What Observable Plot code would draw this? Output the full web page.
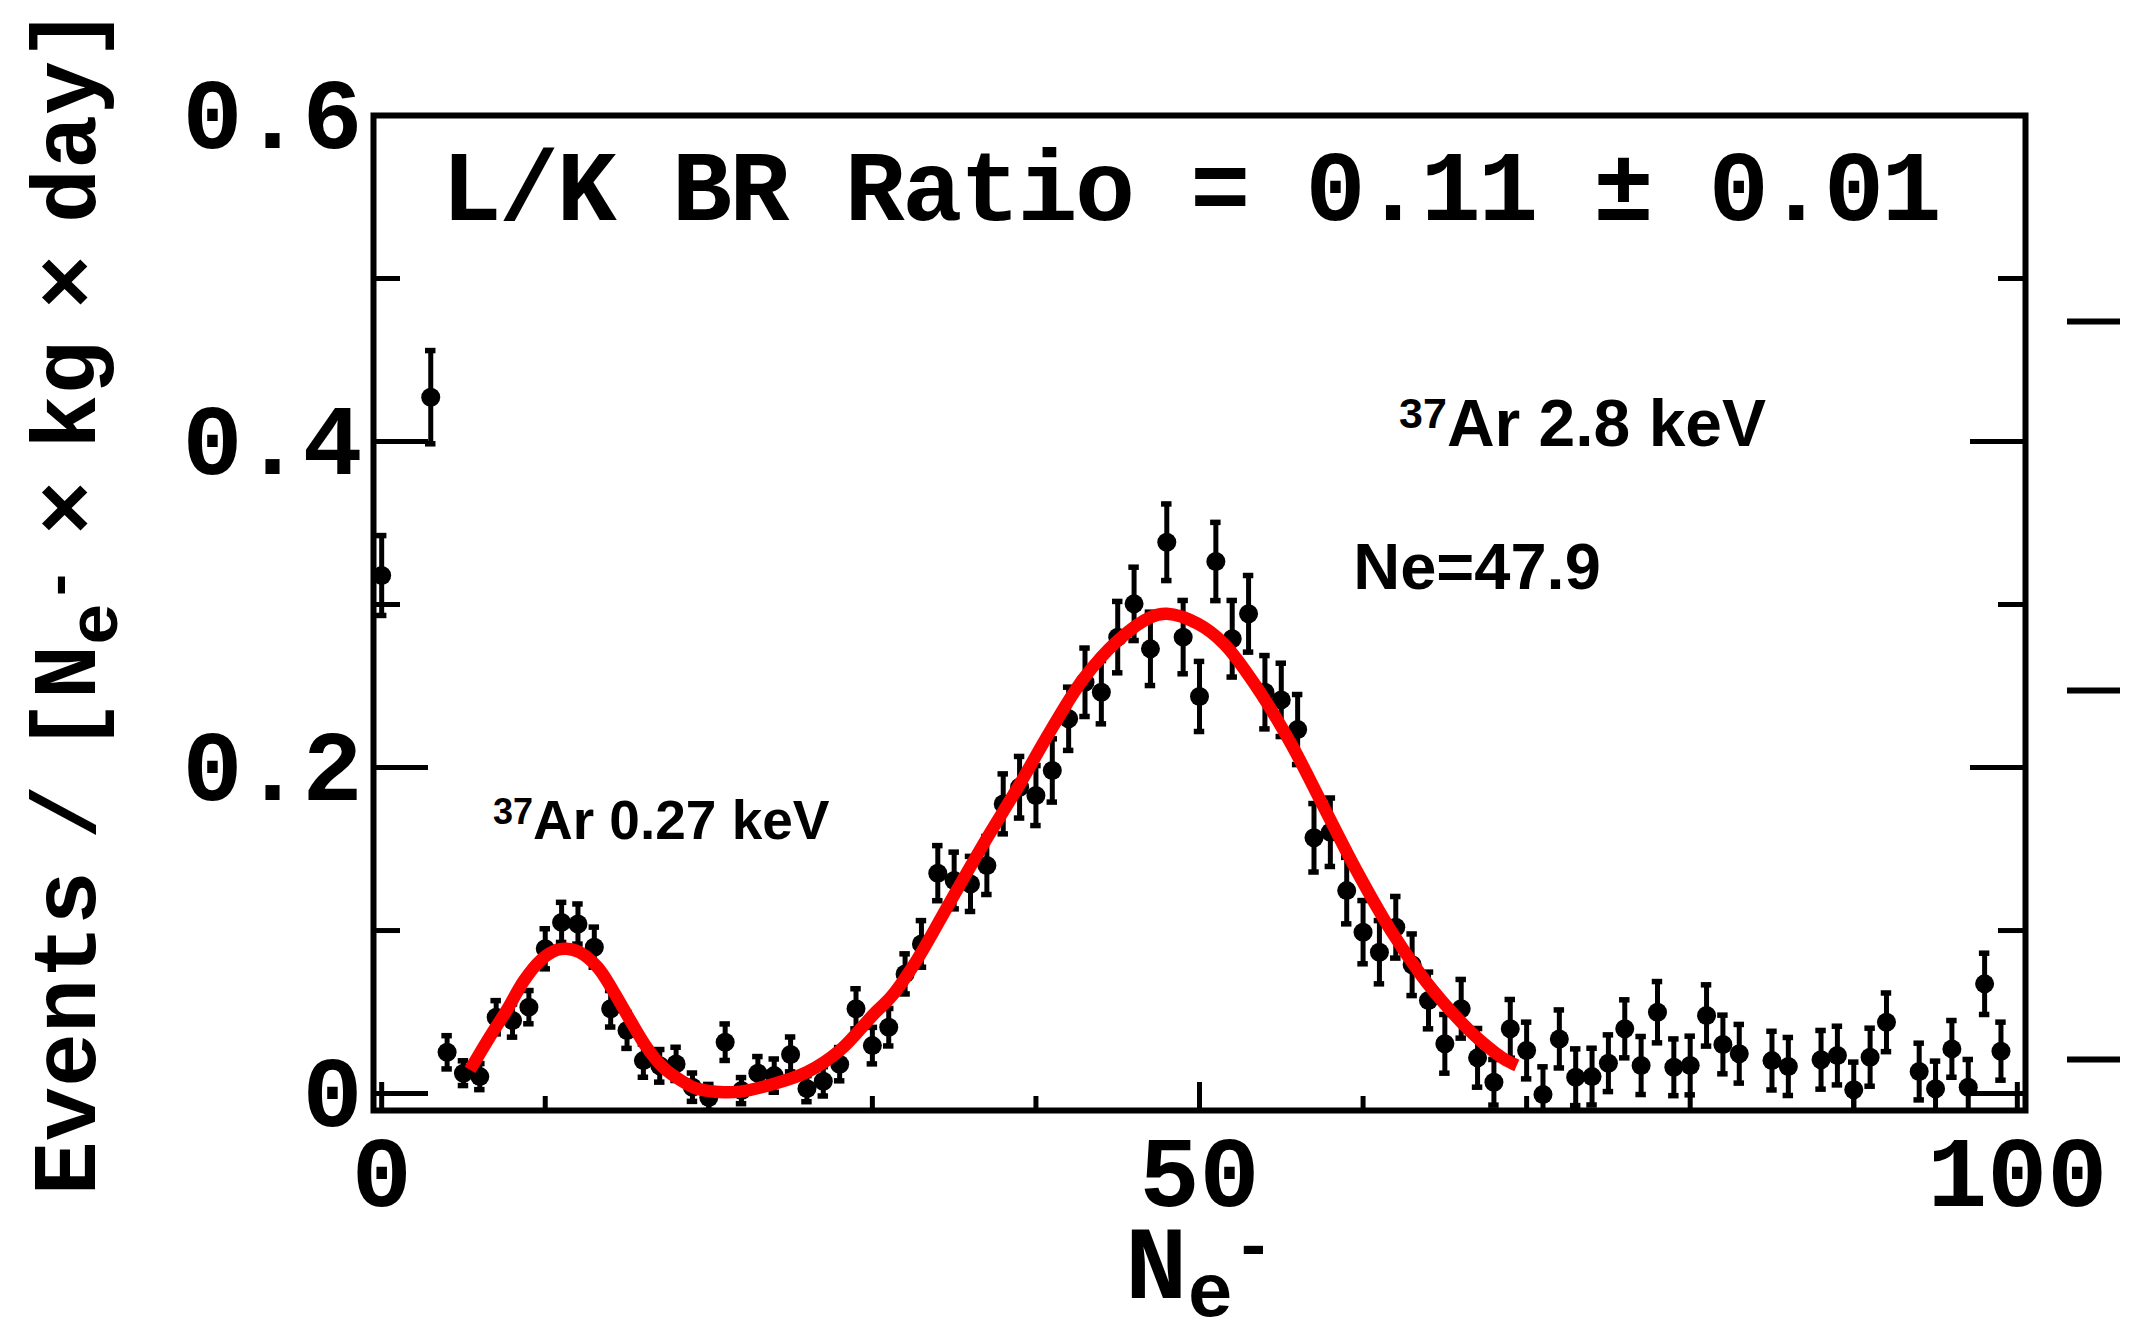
<!DOCTYPE html>
<html>
<head>
<meta charset="utf-8">
<script src="https://cdn.jsdelivr.net/npm/d3@7"></script>
<script src="https://cdn.jsdelivr.net/npm/@observablehq/plot@0.6"></script>
<style>
  html, body { margin: 0; padding: 0; background: #ffffff; }
  #chart { width: 2129px; height: 1330px; overflow: hidden; }
</style>
</head>
<body>
<div id="chart"></div>
<script>
// ---------------- data ----------------
const binX = [0, 3, 4, 5, 6, 7, 8, 9, 10, 11, 12, 13, 14, 15, 16, 17, 18, 19, 20, 21, 22, 23, 24, 25, 26, 27, 28, 29, 30,
  31, 32, 33, 34, 35, 36, 37, 38, 39, 40, 41, 42, 43, 44, 45, 46, 47, 48, 49, 50, 51, 52, 53, 54, 55, 56, 57, 58, 59, 60,
  61, 62, 63, 64, 65, 66, 67, 68, 69, 70, 71, 72, 73, 74, 75, 76, 77, 78, 79, 80, 81, 82, 83, 85, 86, 88, 89, 90, 91, 92,
  94, 95, 96, 97, 98, 99];
const rate = [0.3178, 0.4272, 0.0253, 0.0125, 0.0104, 0.0468, 0.0448, 0.0530, 0.0888, 0.1050, 0.1040, 0.0898, 0.0520, 0.0387, 0.0202,
  0.0170, 0.0182, 0.0039, -0.0024, 0.0315, 0.0018, 0.0125, 0.0110, 0.0240, 0.0030, 0.0075, 0.0180, 0.0520, 0.0294,
  0.0407, 0.0734, 0.0918, 0.1352, 0.1307, 0.1286, 0.1399, 0.1777, 0.1879, 0.1828, 0.1982, 0.2299, 0.2523, 0.2462, 0.2800,
  0.3004, 0.2728, 0.3382, 0.2800, 0.2436, 0.3264, 0.2790, 0.2943, 0.2462, 0.2415, 0.2233, 0.1569, 0.1603, 0.1245, 0.0990,
  0.0867, 0.1020, 0.0790, 0.0571, 0.0305, 0.0520, 0.0219, 0.0069, 0.0397, 0.0264, -0.0006, 0.0335, 0.0100, 0.0104, 0.0186,
  0.0397, 0.0172, 0.0499, 0.0161, 0.0172, 0.0479, 0.0301, 0.0244, 0.0202, 0.0166, 0.0207, 0.0233, 0.0023, 0.0223, 0.0437,
  0.0135, 0.0029, 0.0274, 0.0039, 0.0673, 0.0260];
const rateErr = [0.0245, 0.0286, 0.0102, 0.0076, 0.0080, 0.0102, 0.0102, 0.0102, 0.0123, 0.0123, 0.0123, 0.0123, 0.0112, 0.0110, 0.0102,
  0.0100, 0.0102, 0.0087, 0.0080, 0.0112, 0.0080, 0.0102, 0.0102, 0.0107, 0.0080, 0.0090, 0.0102, 0.0123, 0.0112,
  0.0115, 0.0123, 0.0143, 0.0169, 0.0174, 0.0169, 0.0178, 0.0184, 0.0189, 0.0184, 0.0194, 0.0194, 0.0210, 0.0194, 0.0219,
  0.0225, 0.0225, 0.0235, 0.0225, 0.0215, 0.0240, 0.0235, 0.0235, 0.0225, 0.0225, 0.0215, 0.0210, 0.0210, 0.0204, 0.0194,
  0.0194, 0.0189, 0.0189, 0.0174, 0.0180, 0.0180, 0.0180, 0.0140, 0.0180, 0.0174, 0.0170, 0.0178, 0.0174, 0.0174, 0.0174,
  0.0178, 0.0178, 0.0188, 0.0174, 0.0180, 0.0188, 0.0180, 0.0180, 0.0180, 0.0178, 0.0180, 0.0180, 0.0170, 0.0178, 0.0180,
  0.0174, 0.0170, 0.0174, 0.0170, 0.0188, 0.0178];

// fitted curve (red)
const fitX = [5.4, 6.6, 7.7, 8.7, 9.7, 10.7, 11.3, 12.1, 13.2, 14.2, 15.2, 16.2, 17.2, 18.3, 19.3, 20.9, 21.9, 24.0, 26.0,
  28.0, 30.1, 31.2, 32.7, 34.8, 36.8, 38.9, 40.9, 42.9, 45.0, 47.0, 48.0, 49.9, 51.5, 53.5, 55.6, 57.6, 59.6, 61.7, 63.6,
  64.8, 66.1, 67.4, 68.6, 69.4];
const fitY = [0.0145, 0.0346, 0.0520, 0.0693, 0.0816, 0.0881, 0.0888, 0.0867, 0.0775, 0.0622, 0.0448, 0.0284, 0.0161, 0.0080,
  0.0029, 0.0008, 0.0012, 0.0060, 0.0131, 0.0264, 0.0489, 0.0600, 0.0816, 0.1184, 0.1532, 0.1879, 0.2227, 0.2544, 0.2779,
  0.2922, 0.2943, 0.2882, 0.2759, 0.2493, 0.2145, 0.1757, 0.1368, 0.1000, 0.0720, 0.0571, 0.0428, 0.0305, 0.0213, 0.0172];

// axes
const xMajorTicks = [0, 50, 100];
const xMinorTicks = [10, 20, 30, 40, 60, 70, 80, 90];
const xTickLabels = ["0", "50", "100"];
const yMajorTicks = [0, 0.2, 0.4, 0.6];
const yMinorTicks = [0.1, 0.3, 0.5];
const yTickLabels = ["0", "0.2", "0.4", "0.6"];
// stray tick marks of a neighbouring panel, visible at the right edge
const strayTicks = [0.4736, 0.2472, 0.0209];

// texts
const titleText = "L/K BR Ratio = 0.11 \u00B1 0.01";
const yTitle = "Events / [Ne- \u00D7 kg \u00D7 day]";
const xTitle = "Ne-";
const noteHigh = "37Ar 2.8 keV";
const noteNe = "Ne=47.9";
const noteLow = "37Ar 0.27 keV";

// ---------------- build ----------------
const points = binX.map((x, i) => ({x, y: rate[i], e: rateErr[i]}));
const fit = fitX.map((x, i) => ({x, y: fitY[i]}));

const W = 2129, H = 1330, ML = 373, MR = 104, MT = 115, MB = 220;
const innerW = W - ML - MR;
const innerH = H - MT - MB;
const MONO = '"Courier New", "Liberation Mono", monospace';
const SANS = 'Helvetica, Arial, "Liberation Sans", sans-serif';

const plot = Plot.plot({
  width: W,
  height: H,
  marginLeft: ML,
  marginRight: MR,
  marginTop: MT,
  marginBottom: MB,
  x: {domain: [-0.5, 100.5]},
  y: {domain: [-0.0104, 0.6]},
  style: {background: "white", color: "black"},
  marks: [
    // inward ticks
    Plot.tickY(yMajorTicks, {y: d => d, insetRight: innerW - 55, stroke: "black", strokeWidth: 5}),
    Plot.tickY(yMajorTicks, {y: d => d, insetLeft: innerW - 55, stroke: "black", strokeWidth: 5}),
    Plot.tickY(yMinorTicks, {y: d => d, insetRight: innerW - 27, stroke: "black", strokeWidth: 5}),
    Plot.tickY(yMinorTicks, {y: d => d, insetLeft: innerW - 27, stroke: "black", strokeWidth: 5}),
    Plot.tickX(xMajorTicks, {x: d => d, insetTop: innerH - 28, stroke: "black", strokeWidth: 5}),
    Plot.tickX(xMinorTicks, {x: d => d, insetTop: innerH - 14, stroke: "black", strokeWidth: 5}),
    Plot.tickY(strayTicks, {y: d => d, insetLeft: 1694, insetRight: -95, stroke: "black", strokeWidth: 6}),
    // tick labels
    Plot.axisY({ticks: yMajorTicks, tickSize: 0, tickPadding: 11,
      tickFormat: d => yTickLabels[yMajorTicks.indexOf(d)],
      fontSize: 100, fontFamily: MONO, fontWeight: "bold", label: null}),
    Plot.axisX({ticks: xMajorTicks, tickSize: 0, tickPadding: 24,
      tickFormat: d => xTickLabels[xMajorTicks.indexOf(d)],
      fontSize: 100, fontFamily: MONO, fontWeight: "bold", label: null}),
    // data points with error bars
    Plot.ruleX(points, {x: "x", y1: d => d.y - d.e, y2: d => d.y + d.e, stroke: "black", strokeWidth: 5, clip: true}),
    Plot.ruleY(points, {y: d => d.y + d.e, x1: d => d.x - 0.32, x2: d => d.x + 0.32, stroke: "black", strokeWidth: 5.5, clip: true}),
    Plot.ruleY(points, {y: d => d.y - d.e, x1: d => d.x - 0.32, x2: d => d.x + 0.32, stroke: "black", strokeWidth: 5.5, clip: true}),
    Plot.dot(points, {x: "x", y: "y", r: 9.5, fill: "black", stroke: "none"}),
    // fit
    Plot.line(fit, {x: "x", y: "y", stroke: "#ff0000", strokeWidth: 12.5, curve: "catmull-rom", strokeLinecap: "butt"}),
    Plot.frame({stroke: "black", strokeWidth: 6}),
    // texts
    Plot.text([titleText], {text: d => d, frameAnchor: "top", dx: -8, dy: 72, fontSize: 100,
      fontFamily: MONO, fontWeight: "bold", textAnchor: "middle", lineAnchor: "middle", fill: "black"}),
    Plot.text([noteHigh], {text: d => d, x: 62.2, y: 0.4104, textAnchor: "start", lineAnchor: "middle",
      fontSize: 66, fontFamily: SANS, fontWeight: "bold", fill: "black"}),
    Plot.text([noteNe], {text: d => d, x: 59.4, y: 0.3224, textAnchor: "start", lineAnchor: "middle",
      fontSize: 65, fontFamily: SANS, fontWeight: "bold", fill: "black"}),
    Plot.text([noteLow], {text: d => d, x: 6.8, y: 0.1669, textAnchor: "start", lineAnchor: "middle",
      fontSize: 55, fontFamily: SANS, fontWeight: "bold", fill: "black"}),
    Plot.text([xTitle], {text: d => d, frameAnchor: "bottom", dy: 114, textAnchor: "middle", lineAnchor: "top",
      fontSize: 104, fontFamily: MONO, fontWeight: "bold", fill: "black"}),
    Plot.text([yTitle], {text: d => d, frameAnchor: "left", dx: -(ML - 66), dy: -12, rotate: -90,
      textAnchor: "middle", lineAnchor: "middle", fontSize: 90, fontFamily: MONO, fontWeight: "bold", fill: "black"})
  ]
});

document.getElementById("chart").appendChild(plot);

// ---------------- rich text (sub/superscripts) ----------------
function richText(root, content, parts, attrs) {
  d3.select(root).selectAll("text")
    .filter(function () { return this.textContent === content; })
    .each(function () {
      const t = d3.select(this);
      t.text(null);
      if (attrs) for (const k in attrs) t.attr(k, attrs[k]);
      let cur = 0;
      for (const p of parts) {
        const s = t.append("tspan").text(p.t);
        if (p.fs) s.attr("font-size", p.fs);
        if (p.ff) s.attr("font-family", p.ff);
        const off = p.dy || 0;
        if (off !== cur) { s.attr("dy", off - cur); cur = off; }
      }
    });
}

richText(plot, titleText, [{t: titleText}], {textLength: 1500, lengthAdjust: "spacing"});
richText(plot, noteHigh, [{t: "37", fs: 43, dy: -18}, {t: "Ar 2.8 keV", dy: 0}]);
richText(plot, noteLow, [{t: "37", fs: 36, dy: -15}, {t: "Ar 0.27 keV", dy: 0}]);
richText(plot, xTitle, [{t: "N"}, {t: "e", fs: 76, dy: 18}, {t: "-", fs: 68, dy: -30}]);
richText(plot, yTitle, [
  {t: "Events / [N"},
  {t: "e", fs: 70, dy: 22},
  {t: "-", fs: 60, dy: -18},
  {t: " \u00D7 kg \u00D7 day]", dy: 0}
], {"word-spacing": "-22px"});
</script>
</body>
</html>
